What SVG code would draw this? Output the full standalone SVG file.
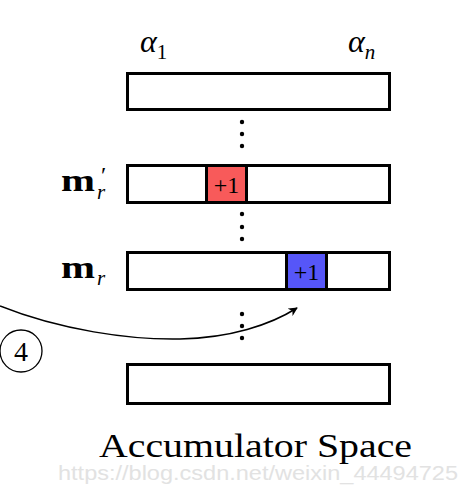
<svg xmlns="http://www.w3.org/2000/svg" width="458" height="504" viewBox="0 0 458 504">
<defs>
<style>
.bar{fill:#fff;stroke:#000;stroke-width:3}
.cell{stroke:#000;stroke-width:3}
text{font-family:"Liberation Serif","Times New Roman","DejaVu Serif",serif;fill:#000}
.it{font-style:italic}
.bf{font-weight:bold}
.dot{fill:#000}
</style>
<marker id="arr" viewBox="0 0 10 10" refX="9" refY="5" markerWidth="9" markerHeight="9" orient="auto" markerUnits="userSpaceOnUse">
<path d="M0,0 L10,5 L0,10 L3,5 z" fill="#000"/>
</marker>
</defs>
<rect width="458" height="504" fill="#fff"/>
<g id="alpha1"><text x="140" y="52"><tspan class="it" font-size="32">α</tspan><tspan font-size="21" dy="7">1</tspan></text></g>
<g id="alphan"><text x="348" y="52"><tspan class="it" font-size="32">α</tspan><tspan class="it" font-size="21" dy="7">n</tspan></text></g>
<g id="row-top"><rect class="bar" x="127.5" y="73.5" width="262" height="36"/></g>
<g id="row-mr-prime">
<text class="bf" x="61" y="191" font-size="32" textLength="34" lengthAdjust="spacingAndGlyphs">m</text>
<text x="96" y="191"><tspan font-size="24" x="101" dy="-8">′</tspan><tspan class="it" font-size="21" x="97" dy="16">r</tspan></text>
<rect class="bar" x="127.5" y="165.5" width="262" height="37"/>
<rect class="cell" x="206.5" y="165.5" width="40" height="37" fill="#f85a5a"/>
<text x="226.5" y="193" font-size="24" text-anchor="middle">+1</text>
</g>
<g id="row-mr">
<text class="bf" x="61" y="278" font-size="32" textLength="34" lengthAdjust="spacingAndGlyphs">m</text>
<text class="it" x="97" y="285" font-size="21">r</text>
<rect class="bar" x="127.5" y="252.5" width="262" height="37"/>
<rect class="cell" x="286.5" y="252.5" width="40" height="37" fill="#5656f8"/>
<text x="306.5" y="280" font-size="24" text-anchor="middle">+1</text>
</g>
<g id="row-bottom"><rect class="bar" x="127.5" y="364.5" width="262" height="39"/></g>
<g id="dots">
<circle class="dot" cx="242" cy="122" r="2.2"/><circle class="dot" cx="242" cy="134" r="2.2"/><circle class="dot" cx="242" cy="146" r="2.2"/>
<circle class="dot" cx="242" cy="214" r="2.2"/><circle class="dot" cx="242" cy="227" r="2.2"/><circle class="dot" cx="242" cy="239" r="2.2"/>
<circle class="dot" cx="242" cy="314" r="2.2"/><circle class="dot" cx="242" cy="326" r="2.2"/><circle class="dot" cx="242" cy="338" r="2.2"/>
</g>
<g id="step4">
<circle cx="21" cy="351" r="21" fill="none" stroke="#000" stroke-width="1.3"/>
<text x="21" y="361" font-size="28" text-anchor="middle">4</text>
</g>
<g id="connectors">
<path d="M0,306 C60,330 130,340 180,339 C230,338 270,325 297,308" fill="none" stroke="#000" stroke-width="1.5" marker-end="url(#arr)"/>
</g>
<text x="99" y="457" font-size="34" textLength="313" lengthAdjust="spacingAndGlyphs">Accumulator Space</text>
<text x="58" y="480" font-size="20" style="font-family:'Liberation Sans',Arial,sans-serif;fill:#e2e2e2" textLength="400" lengthAdjust="spacingAndGlyphs">https://blog.csdn.net/weixin_44494725</text>
</svg>
